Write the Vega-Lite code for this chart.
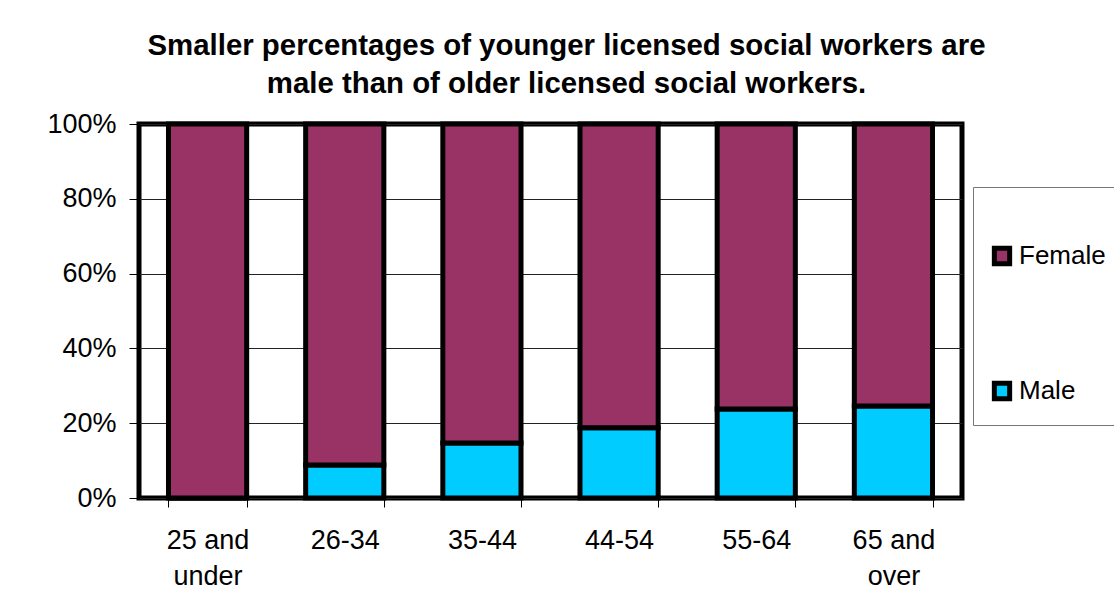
{
  "$schema": "https://vega.github.io/schema/vega-lite/v6.json",
  "width": 823,
  "height": 374,
  "autosize": {"type": "none"},
  "padding": {"left": 139, "top": 124, "right": 152, "bottom": 98},
  "background": "white",
  "title": {
    "text": ["Smaller percentages of younger licensed social workers are", "male than of older licensed social workers."],
    "font": "Liberation Sans",
    "fontSize": 29.4,
    "fontWeight": "bold",
    "color": "black",
    "anchor": "middle",
    "dx": 16,
    "lineHeight": 38,
    "offset": 11
  },
  "data": {
    "values": [
      {"age": "25 and under", "sex": "Male", "share": 0.0},
      {"age": "25 and under", "sex": "Female", "share": 1.0},
      {"age": "26-34", "sex": "Male", "share": 0.088},
      {"age": "26-34", "sex": "Female", "share": 0.912},
      {"age": "35-44", "sex": "Male", "share": 0.147},
      {"age": "35-44", "sex": "Female", "share": 0.853},
      {"age": "44-54", "sex": "Male", "share": 0.188},
      {"age": "44-54", "sex": "Female", "share": 0.812},
      {"age": "55-64", "sex": "Male", "share": 0.238},
      {"age": "55-64", "sex": "Female", "share": 0.762},
      {"age": "65 and over", "sex": "Male", "share": 0.246},
      {"age": "65 and over", "sex": "Female", "share": 0.754}
    ]
  },
  "mark": {"type": "bar", "stroke": "black", "strokeWidth": 5},
  "encoding": {
    "x": {
      "field": "age",
      "type": "nominal",
      "sort": null,
      "scale": {"paddingInner": 0.43, "paddingOuter": 0.215},
      "axis": {
        "title": null,
        "labelAngle": 0,
        "labelFont": "Liberation Sans",
        "labelFontSize": 27,
        "labelColor": "black",
        "labelBaseline": "top",
        "labelLineHeight": 36,
        "labelPadding": 20,
        "labelExpr": "datum.label == '25 and under' ? ['25 and', 'under'] : datum.label == '65 and over' ? ['65 and', 'over'] : datum.label",
        "tickBand": "extent",
        "tickSize": 9,
        "tickColor": "black",
        "tickWidth": 1,
        "domain": false,
        "grid": false
      }
    },
    "y": {
      "field": "share",
      "type": "quantitative",
      "stack": "zero",
      "scale": {"domain": [0, 1], "nice": false},
      "axis": {
        "title": null,
        "values": [0, 0.2, 0.4, 0.6, 0.8, 1],
        "format": ".0%",
        "labelFont": "Liberation Sans",
        "labelFontSize": 27,
        "labelColor": "black",
        "labelPadding": 13,
        "tickSize": 10,
        "tickColor": "black",
        "tickWidth": 1,
        "domain": false,
        "grid": true,
        "gridColor": "#222",
        "gridWidth": 1
      }
    },
    "color": {
      "field": "sex",
      "type": "nominal",
      "scale": {"domain": ["Female", "Male"], "range": ["#993366", "#00ccff"]},
      "legend": {
        "orient": "none",
        "legendX": 834,
        "legendY": 63,
        "title": " ",
        "titleFontSize": 20,
        "titlePadding": 20,
        "padding": 16,
        "fillColor": "white",
        "strokeColor": "#777",
        "symbolType": "square",
        "symbolSize": 234,
        "symbolStrokeColor": "black",
        "symbolStrokeWidth": 5,
        "symbolOpacity": 1,
        "labelFont": "Liberation Sans",
        "labelFontSize": 26,
        "labelColor": "black",
        "labelOffset": 4,
        "rowPadding": 99,
        "labelLimit": 300
      }
    },
    "order": {"field": "sex", "sort": "descending"}
  },
  "config": {
    "view": {"stroke": "black", "strokeWidth": 5}
  }
}
